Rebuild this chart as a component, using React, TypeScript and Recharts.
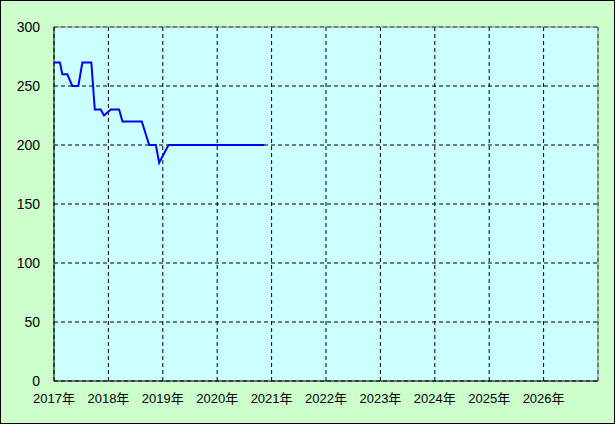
import { LineChart, Line, XAxis, YAxis, CartesianGrid, ReferenceLine } from 'recharts';

// dates where the price changed, and the price on that date
const dates = [
  '2017-01-01', '2017-02-10', '2017-02-26', '2017-03-29', '2017-05-02', '2017-06-12',
  '2017-07-09', '2017-09-08', '2017-10-01', '2017-11-10', '2017-12-02', '2018-01-17',
  '2018-03-12', '2018-04-04', '2018-08-12', '2018-10-01', '2018-11-15', '2018-12-07',
  '2019-02-09', '2020-11-13',
];
const prices = [
  270, 270, 260, 260, 250, 250,
  270, 270, 230, 230, 225, 230,
  230, 220, 220, 200, 200, 185,
  200, 200,
];
const yearLabels = ['2017年', '2018年', '2019年', '2020年', '2021年', '2022年', '2023年', '2024年', '2025年', '2026年'];
const yTicks = [0, 50, 100, 150, 200, 250, 300];

// months since Jan 2017
const toMonths = (s: string) => {
  const [y, m, d] = s.split('-').map(Number);
  return (y - 2017) * 12 + (m - 1) + (d - 1) / 30;
};

const data = dates.map((d, i) => ({ t: toMonths(d), price: prices[i] }));
const xTicks = yearLabels.map((_, i) => i * 12);

const font = '"Liberation Sans", "Noto Sans CJK JP", sans-serif';

const App = () => {
  return (
    <div style={{ position: 'absolute', left: 0, top: 0, width: 615, height: 424, background: '#ccffcc' }}>
      <LineChart width={615} height={424} data={data} margin={{ top: 27, right: 17, left: 0, bottom: 0 }}>
        <CartesianGrid fill="#ccffff" stroke="#000" strokeDasharray="4 3" />
        <XAxis
          dataKey="t"
          type="number"
          domain={[0, 120]}
          ticks={xTicks}
          tickFormatter={(v) => yearLabels[Math.round(v / 12)]}
          height={43}
          stroke="#000"
          tickLine={false}
          tickSize={0}
          tickMargin={13}
          tick={{ fill: '#000', fontSize: 13, fontFamily: font }}
        />
        <YAxis
          domain={[0, 300]}
          ticks={yTicks}
          width={54}
          stroke="#000"
          tickLine={false}
          tickSize={0}
          tickMargin={14}
          tick={{ fill: '#000', fontSize: 14, fontFamily: font }}
        />
        <ReferenceLine y={300} stroke="#808080" />
        <ReferenceLine x={120} stroke="#808080" />
        <Line
          type="linear"
          dataKey="price"
          stroke="#0000ff"
          strokeWidth={2}
          dot={false}
          isAnimationActive={false}
        />
      </LineChart>
      <div style={{ position: 'absolute', inset: 0, border: '1px solid #000', pointerEvents: 'none' }} />
    </div>
  );
};

export default App;
